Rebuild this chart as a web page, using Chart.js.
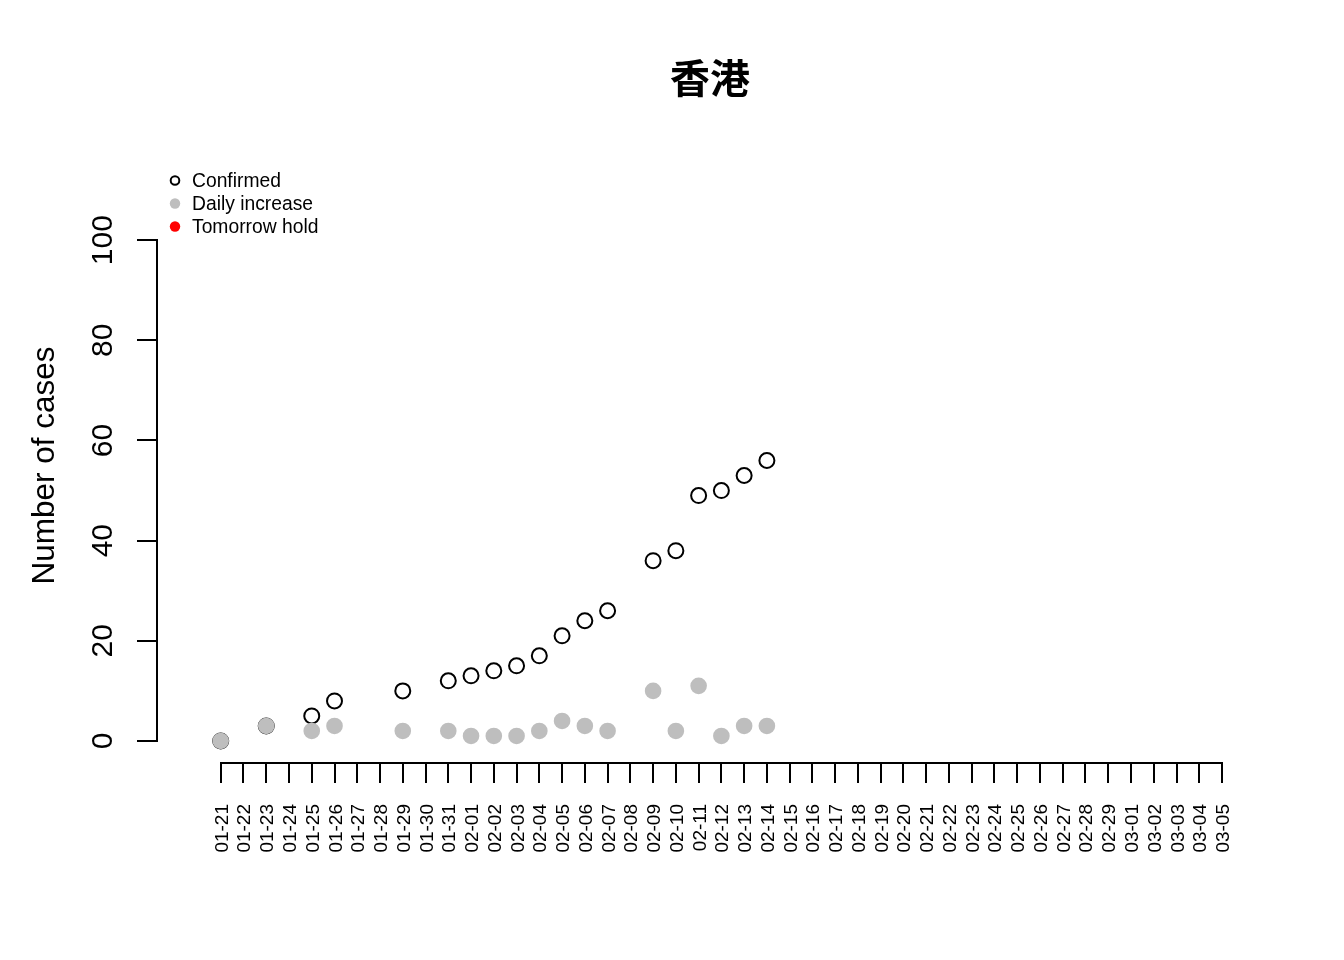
<!DOCTYPE html>
<html>
<head>
<meta charset="utf-8">
<script src="https://cdn.jsdelivr.net/npm/chart.js@4/dist/chart.umd.min.js"></script>
<style>
  html, body { margin: 0; padding: 0; background: #ffffff; }
  #wrap { width: 1344px; height: 960px; position: relative; }
</style>
</head>
<body>
<div id="wrap"><canvas id="c" width="1344" height="960"></canvas></div>
<script>
// ---- data ----
const chartTitle = '香港';
const dates = [
  '01-21','01-22','01-23','01-24','01-25','01-26','01-27','01-28','01-29','01-30','01-31',
  '02-01','02-02','02-03','02-04','02-05','02-06','02-07','02-08','02-09','02-10',
  '02-11','02-12','02-13','02-14','02-15','02-16','02-17','02-18','02-19','02-20',
  '02-21','02-22','02-23','02-24','02-25','02-26','02-27','02-28','02-29',
  '03-01','03-02','03-03','03-04','03-05'
];
const obsDates = [
  '01-21','01-23','01-25','01-26','01-29','01-31','02-01','02-02','02-03','02-04',
  '02-05','02-06','02-07','02-09','02-10','02-11','02-12','02-13','02-14'
];
const confirmed = [0, 3, 5, 8, 10, 12, 13, 14, 15, 17, 21, 24, 26, 36, 38, 49, 50, 53, 56];
const dailyIncrease = [0, 3, 2, 3, 2, 2, 1, 1, 1, 2, 4, 3, 2, 10, 2, 11, 1, 3, 3];
const tomorrowHold = [];
const yTicks = [0, 20, 40, 60, 80, 100];
const yLabel = 'Number of cases';

// ---- build points ----
function pts(values, dts) {
  return values.map((v, i) => ({ x: dates.indexOf(dts[i]), y: v }));
}

const FONT = '"Liberation Sans", Arial, Helvetica, sans-serif';

const rAxesPlugin = {
  id: 'rAxes',
  afterDraw(chart) {
    const ctx = chart.ctx;
    const xs = chart.scales.x, ys = chart.scales.y;
    const area = chart.chartArea;
    ctx.save();
    ctx.strokeStyle = '#000';
    ctx.fillStyle = '#000';
    ctx.lineWidth = 2;
    ctx.lineCap = 'butt';

    // Y axis (R style: only spanning tick range)
    const axX = area.left;
    const y0 = ys.getPixelForValue(yTicks[0]);
    const y1 = ys.getPixelForValue(yTicks[yTicks.length - 1]);
    ctx.beginPath();
    ctx.moveTo(axX, y0); ctx.lineTo(axX, y1);
    yTicks.forEach(t => {
      const py = Math.round(ys.getPixelForValue(t));
      ctx.moveTo(axX + 1, py); ctx.lineTo(axX - 20, py);
    });
    ctx.stroke();
    ctx.font = '30px ' + FONT;
    ctx.textAlign = 'center';
    ctx.textBaseline = 'alphabetic';
    yTicks.forEach(t => {
      const py = ys.getPixelForValue(t);
      ctx.save();
      ctx.translate(112, py);
      ctx.rotate(-Math.PI / 2);
      ctx.fillText(String(t), 0, 0);
      ctx.restore();
    });

    // Y label (centred on plot region)
    ctx.save();
    ctx.translate(54, (area.top + area.bottom) / 2);
    ctx.rotate(-Math.PI / 2);
    ctx.font = '31.5px ' + FONT;
    ctx.fillText(yLabel, 0, 0);
    ctx.restore();

    // X axis
    const axY = area.bottom;
    const xa = xs.getPixelForValue(0);
    const xb = xs.getPixelForValue(dates.length - 1);
    ctx.beginPath();
    ctx.moveTo(xa, axY); ctx.lineTo(xb, axY);
    dates.forEach((d, i) => {
      const px = Math.round(xs.getPixelForValue(i));
      ctx.moveTo(px, axY - 1); ctx.lineTo(px, axY + 20);
    });
    ctx.stroke();
    ctx.font = '19px ' + FONT;
    ctx.textAlign = 'right';
    ctx.textBaseline = 'alphabetic';
    dates.forEach((d, i) => {
      const px = xs.getPixelForValue(i);
      ctx.save();
      ctx.translate(px + 7, 804);
      ctx.rotate(-Math.PI / 2);
      ctx.fillText(d, 0, 0);
      ctx.restore();
    });

    // Title
    ctx.font = 'bold 40px "Noto Sans CJK TC", "Noto Sans CJK SC", sans-serif';
    ctx.textAlign = 'center';
    ctx.textBaseline = 'middle';
    ctx.fillText(chartTitle, (area.left + area.right) / 2, 78);

    // Legend (top-left inside plot region)
    const items = ['confirmed', 'daily', 'tomorrow'].map(k => chart.data.datasets.find(ds => ds.key === k));
    ctx.font = '19.3px ' + FONT;
    ctx.textAlign = 'left';
    ctx.textBaseline = 'middle';
    items.forEach((ds, i) => {
      const cy = 180.5 + i * 23;
      const cx = 175;
      ctx.beginPath();
      if (ds.key === 'confirmed') {
        ctx.arc(cx, cy, 4.3, 0, Math.PI * 2);
        ctx.lineWidth = 2;
        ctx.strokeStyle = ds.borderColor;
        ctx.stroke();
      } else {
        ctx.arc(cx, cy, 5.2, 0, Math.PI * 2);
        ctx.fillStyle = ds.backgroundColor;
        ctx.fill();
      }
      ctx.fillStyle = '#000';
      ctx.fillText(ds.label, 192, cy + 1);
    });
    ctx.restore();
  }
};

new Chart(document.getElementById('c'), {
  type: 'scatter',
  data: {
    datasets: [
      {
        key: 'confirmed', label: 'Confirmed',
        data: pts(confirmed, obsDates),
        pointRadius: 7.5, pointHoverRadius: 7.5,
        borderColor: '#000000', backgroundColor: 'rgba(0,0,0,0)',
        pointBorderWidth: 2, borderWidth: 2,
        order: 2
      },
      {
        key: 'daily', label: 'Daily increase',
        data: pts(dailyIncrease, obsDates),
        pointRadius: 8.3, pointHoverRadius: 8.3,
        borderColor: '#BEBEBE', backgroundColor: '#BEBEBE',
        pointBorderWidth: 0, borderWidth: 0,
        order: 1
      },
      {
        key: 'tomorrow', label: 'Tomorrow hold',
        data: pts(tomorrowHold, obsDates),
        pointRadius: 8.3,
        borderColor: '#FF0000', backgroundColor: '#FF0000',
        pointBorderWidth: 0, borderWidth: 0,
        order: 0
      }
    ]
  },
  options: {
    responsive: false,
    animation: false,
    devicePixelRatio: 1,
    layout: { padding: { left: 157, top: 168, right: 81, bottom: 197 } },
    plugins: { legend: { display: false }, title: { display: false }, tooltip: { enabled: false } },
    scales: {
      x: { type: 'linear', display: false, min: -2.8, max: 45.8 },
      y: { type: 'linear', display: false, min: -4.4, max: 114.4 }
    }
  },
  plugins: [rAxesPlugin]
});
</script>
</body>
</html>
